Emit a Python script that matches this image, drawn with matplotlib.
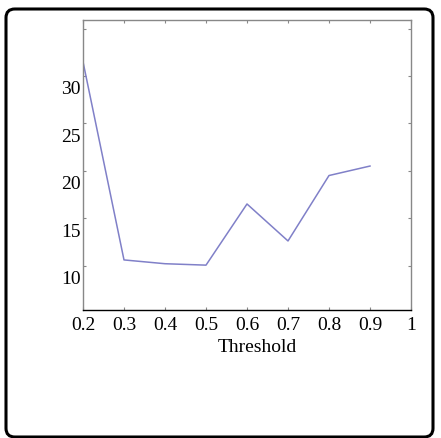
import matplotlib
matplotlib.use('Agg')
import matplotlib.pyplot as plt
import matplotlib.transforms as mtransforms
from matplotlib.patches import FancyBboxPatch

# data
threshold = [0.2, 0.3, 0.4, 0.5, 0.6, 0.7, 0.8, 0.9]
values = [31.5, 10.6, 10.2, 10.05, 16.5, 12.6, 19.5, 20.5]
xticks = [0.2, 0.3, 0.4, 0.5, 0.6, 0.7, 0.8, 0.9, 1.0]
xticklabels = ['0.2', '0.3', '0.4', '0.5', '0.6', '0.7', '0.8', '0.9', '1']
yticks = [10, 15, 20, 25, 30, 35]
yticklabels = ['10', '15', '20', '25', '30', '']

plt.rcParams['font.family'] = ['Liberation Serif', 'DejaVu Serif']

fig = plt.figure(figsize=(4.41, 4.38), dpi=100)
ax = fig.add_axes([83/441, 1-310/438, (411-83)/441, (310-20)/438])

ax.plot(threshold, values, color='#8080c8', lw=1.1)

ax.set_xlim(0.2, 1.0)
ax.set_ylim(5.32, 35.9)
ax.set_xticks(xticks)
ax.set_xticklabels(xticklabels)
ax.set_yticks(yticks)
ax.set_yticklabels(yticklabels)

ax.tick_params(direction='in', length=2.5, width=0.8, color='#888888',
               top=True, right=True, labelsize=14, pad=1.5)
ax.tick_params(axis='x', pad=5)

# labels in the original sit a bit below their ticks
off = mtransforms.ScaledTranslation(0, -12/100, fig.dpi_scale_trans)
for lab in ax.get_yticklabels():
    lab.set_transform(lab.get_transform() + off)

for s in ['left', 'right', 'top']:
    ax.spines[s].set_color('#888888')
    ax.spines[s].set_linewidth(1.0)
ax.spines['bottom'].set_color('black')
ax.spines['bottom'].set_linewidth(1.0)

ax.set_xlabel('Threshold', fontsize=14)
ax.xaxis.set_label_coords(0.53, -0.10)

# rounded frame around the whole picture
frame = FancyBboxPatch((6/441, 1-437/438), (433-6)/441, (437-9)/438,
                       boxstyle='round,pad=0,rounding_size=0.02',
                       transform=fig.transFigure, fill=False,
                       edgecolor='black', lw=2.2, clip_on=False)
fig.patches.append(frame)

fig.savefig('out.png', dpi=100)
